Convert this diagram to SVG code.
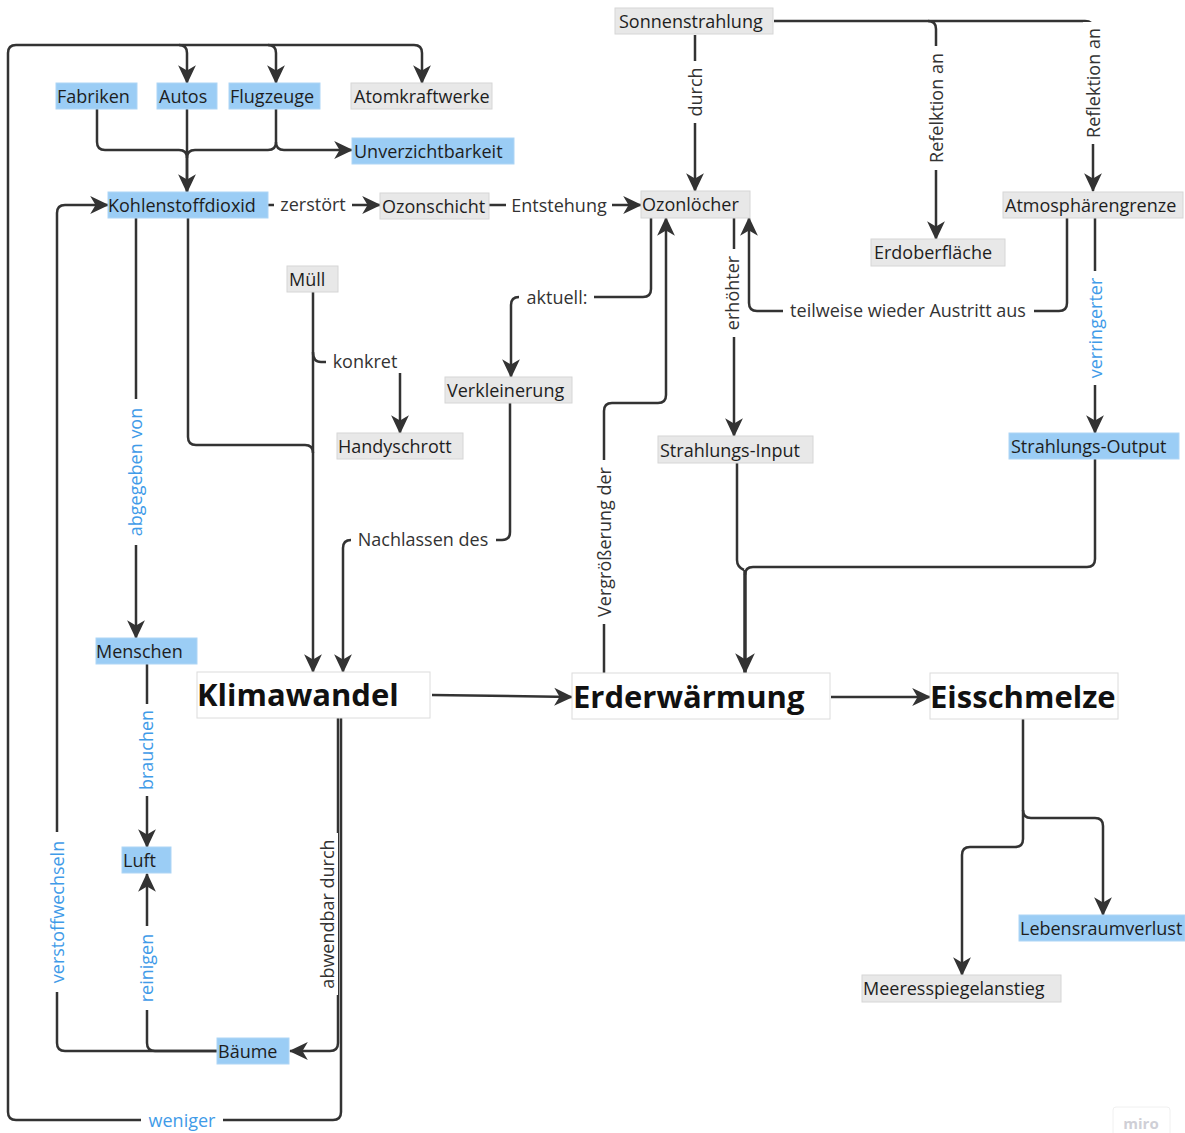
<svg xmlns="http://www.w3.org/2000/svg" width="1185" height="1133" viewBox="0 0 1185 1133">
<defs>
<marker id="ah" viewBox="0 0 16 16" refX="15" refY="8" markerWidth="19" markerHeight="19" markerUnits="userSpaceOnUse" orient="auto">
<path d="M0,0.5 L16,8 L0,15.5 L4.5,8 z" fill="#333"/>
</marker>
<marker id="ahb" viewBox="0 0 16 16" refX="15" refY="8" markerWidth="21" markerHeight="21" markerUnits="userSpaceOnUse" orient="auto">
<path d="M0,0.5 L16,8 L0,15.5 L4.5,8 z" fill="#333"/>
</marker>
</defs>
<style>
.c{fill:none;stroke:#333;stroke-width:2.5;stroke-linejoin:round}
.a{marker-end:url(#ah)}
.nb{fill:#9bcdf5;stroke:#aed5f5;stroke-width:1}
.ng{fill:#e8e8e8;stroke:#d6d6d6;stroke-width:1}
.nw{fill:#fff;stroke:#dcdcdc;stroke-width:1}
.t{font-family:"Open Sans","Noto Sans","DejaVu Sans",sans-serif;font-size:18px;fill:#1e1e1e}
.tb{font-family:"Open Sans","Noto Sans","DejaVu Sans",sans-serif;font-size:31px;font-weight:bold;fill:#111}
.l{font-family:"Open Sans","Noto Sans","DejaVu Sans",sans-serif;font-size:18px;fill:#333;text-anchor:middle}
.lb{font-family:"Open Sans","Noto Sans","DejaVu Sans",sans-serif;font-size:18px;fill:#3f9be8;text-anchor:middle}
.bg{fill:#fff}
</style>
<rect width="1185" height="1133" fill="#fff"/>

<g id="connectors">
<!-- weniger loop -->
<path class="c a" d="M341,718 V1112 Q341,1120 333,1120 H16 Q8,1120 8,1112 V53 Q8,45 16,45 H414 Q422,45 422,53 V83"/>
<path class="c a" d="M179,45 Q187,45 187,53 V83"/>
<path class="c a" d="M268,45 Q276,45 276,53 V83"/>
<!-- abwendbar durch -->
<path class="c a" d="M338,718 V1043 Q338,1051 330,1051 H290"/>
<!-- sources to CO2 -->
<path class="c a" d="M97,109 V142 Q97,150 105,150 H179 Q187,150 187,158 V192"/>
<path class="c" d="M187,109 V192"/>
<path class="c" d="M276,109 V142 Q276,150 268,150 H195 Q187,150 187,158"/>
<path class="c a" d="M276,142 Q276,150 284,150 H352"/>
<!-- zerstört / Entstehung -->
<path class="c a" d="M268,205 H380"/>
<path class="c a" d="M489,205 H641"/>
<!-- Sonnenstrahlung -->
<path class="c a" d="M695,35 V191"/>
<path class="c a" d="M774,21 H1085 Q1093,21 1093,29 V191"/>
<path class="c a" d="M928,21 Q936,21 936,29 V239"/>
<!-- Ozonlöcher area -->
<path class="c a" d="M651,218 V289 Q651,297 643,297 H519 Q511,297 511,305 V377"/>
<path class="c a" d="M604,673 V411 Q604,403 612,403 H658 Q666,403 666,395 V218"/>
<path class="c a" d="M734,218 V436"/>
<path class="c a" d="M1067,218 V303 Q1067,311 1059,311 H757 Q749,311 749,303 V218"/>
<path class="c a" d="M1095,218 V433"/>
<!-- Strahlung to Erderwärmung -->
<path class="c" d="M737,462 V560 Q737,567 744,570"/>
<path class="c" d="M1095,459 V559 Q1095,567 1087,567 H753 Q745,567 745,575"/>
<path class="c" style="stroke-width:3.5;marker-end:url(#ahb)" d="M745,570 V673"/>
<!-- main chain -->
<path class="c a" d="M432,695 L572,697"/>
<path class="c a" d="M831,697 H930"/>
<!-- Eisschmelze -->
<path class="c a" d="M1023,719 V810 Q1023,818 1031,818 H1095 Q1103,818 1103,826 V915"/>
<path class="c a" d="M1023,810 V839 Q1023,847 1015,847 H970 Q962,847 962,855 V975"/>
<!-- CO2 lines -->
<path class="c a" d="M136,218 V638"/>
<path class="c" d="M188,218 V437 Q188,445 196,445 H305 Q313,445 313,453"/>
<path class="c a" d="M313,292 V672"/>
<path class="c a" d="M313,352 Q313,362 321,362 H392 Q400,362 400,370 V433"/>
<path class="c a" d="M510,403 V532 Q510,540 502,540 H351 Q343,540 343,548 V672"/>
<!-- Menschen / Luft / Bäume -->
<path class="c a" d="M147,664 V847"/>
<path class="c a" d="M217,1051 H155 Q147,1051 147,1043 V874"/>
<path class="c a" d="M217,1051 H65 Q57,1051 57,1043 V213 Q57,205 65,205 H108"/>

<!-- labels -->
<rect class="bg" x="274" y="194" width="78" height="22"/><text class="l" x="313" y="211">zerstört</text>
<rect class="bg" x="506" y="194" width="106" height="22"/><text class="l" x="559" y="212">Entstehung</text>
<rect class="bg" x="519" y="287" width="75" height="22"/><text class="l" x="557" y="304">aktuell:</text>
<rect class="bg" x="783" y="300" width="251" height="22"/><text class="l" x="908" y="317">teilweise wieder Austritt aus</text>
<rect class="bg" x="326" y="351" width="78" height="22"/><text class="l" x="365" y="368">konkret</text>
<rect class="bg" x="351" y="529" width="145" height="22"/><text class="l" x="423" y="546">Nachlassen des</text>
<rect class="bg" x="141" y="1110" width="82" height="22"/><text class="lb" x="182" y="1127">weniger</text>

<g transform="translate(696,92) rotate(-90)"><rect class="bg" x="-31" y="-11" width="62" height="22"/><text class="l" x="0" y="6">durch</text></g>
<g transform="translate(937,108) rotate(-90)"><rect class="bg" x="-62" y="-11" width="124" height="22"/><text class="l" x="0" y="6">Refelktion an</text></g>
<g transform="translate(1094,83) rotate(-90)"><rect class="bg" x="-61" y="-11" width="122" height="22"/><text class="l" x="0" y="6">Reflektion an</text></g>
<g transform="translate(605,542) rotate(-90)"><rect class="bg" x="-82" y="-11" width="164" height="22"/><text class="l" x="0" y="6">Vergrößerung der</text></g>
<g transform="translate(733,293) rotate(-90)"><rect class="bg" x="-44" y="-11" width="88" height="22"/><text class="l" x="0" y="6">erhöhter</text></g>
<g transform="translate(1096,328) rotate(-90)"><rect class="bg" x="-57" y="-11" width="114" height="22"/><text class="lb" x="0" y="6">verringerter</text></g>
<g transform="translate(136,472) rotate(-90)"><rect class="bg" x="-73" y="-11" width="146" height="22"/><text class="lb" x="0" y="6">abgegeben von</text></g>
<g transform="translate(147,750) rotate(-90)"><rect class="bg" x="-46" y="-11" width="92" height="22"/><text class="lb" x="0" y="6">brauchen</text></g>
<g transform="translate(147,968) rotate(-90)"><rect class="bg" x="-42" y="-11" width="84" height="22"/><text class="lb" x="0" y="6">reinigen</text></g>
<g transform="translate(58,912) rotate(-90)"><rect class="bg" x="-80" y="-11" width="160" height="22"/><text class="lb" x="0" y="6">verstoffwechseln</text></g>
<g transform="translate(328,914) rotate(-90)"><rect class="bg" x="-81" y="-10" width="162" height="20"/><text class="l" x="0" y="6">abwendbar durch</text></g>
</g>

<g id="n-fabriken"><rect class="nb" x="56" y="83" width="81" height="26"/><text class="t" x="57" y="103">Fabriken</text></g>
<g id="n-autos"><rect class="nb" x="157" y="83" width="60" height="26"/><text class="t" x="159" y="103">Autos</text></g>
<g id="n-flugzeuge"><rect class="nb" x="229" y="83" width="91" height="26"/><text class="t" x="230" y="103">Flugzeuge</text></g>
<g id="n-atomkraftwerke"><rect class="ng" x="351" y="83" width="141" height="26"/><text class="t" x="354" y="103">Atomkraftwerke</text></g>
<g id="n-unverzichtbarkeit"><rect class="nb" x="352" y="138" width="162" height="26"/><text class="t" x="354" y="158">Unverzichtbarkeit</text></g>
<g id="n-kohlenstoffdioxid"><rect class="nb" x="108" y="192" width="160" height="26"/><text class="t" x="108" y="212">Kohlenstoffdioxid</text></g>
<g id="n-ozonschicht"><rect class="ng" x="380" y="193" width="109" height="26"/><text class="t" x="382" y="213">Ozonschicht</text></g>
<g id="n-ozonloecher"><rect class="ng" x="641" y="191" width="109" height="27"/><text class="t" x="642" y="211">Ozonlöcher</text></g>
<g id="n-sonnenstrahlung"><rect class="ng" x="615" y="8" width="158" height="26"/><text class="t" x="619" y="28">Sonnenstrahlung</text></g>
<g id="n-atmosphaerengrenze"><rect class="ng" x="1003" y="192" width="180" height="26"/><text class="t" x="1005" y="212">Atmosphärengrenze</text></g>
<g id="n-erdoberflaeche"><rect class="ng" x="871" y="239" width="134" height="27"/><text class="t" x="874" y="259">Erdoberfläche</text></g>
<g id="n-muell"><rect class="ng" x="287" y="266" width="51" height="26"/><text class="t" x="289" y="286">Müll</text></g>
<g id="n-verkleinerung"><rect class="ng" x="445" y="377" width="127" height="26"/><text class="t" x="447" y="397">Verkleinerung</text></g>
<g id="n-handyschrott"><rect class="ng" x="337" y="433" width="126" height="26"/><text class="t" x="338" y="453">Handyschrott</text></g>
<g id="n-strahlungsinput"><rect class="ng" x="658" y="436" width="155" height="27"/><text class="t" x="660" y="457">Strahlungs-Input</text></g>
<g id="n-strahlungsoutput"><rect class="nb" x="1009" y="433" width="170" height="26"/><text class="t" x="1011" y="453">Strahlungs-Output</text></g>
<g id="n-menschen"><rect class="nb" x="96" y="638" width="101" height="26"/><text class="t" x="96" y="658">Menschen</text></g>
<g id="n-klimawandel"><rect class="nw" x="197" y="672" width="233" height="46"/><text class="tb" x="197" y="706">Klimawandel</text></g>
<g id="n-erderwaermung"><rect class="nw" x="572" y="673" width="258" height="46"/><text class="tb" x="573" y="708">Erderwärmung</text></g>
<g id="n-eisschmelze"><rect class="nw" x="930" y="673" width="188" height="46"/><text class="tb" x="930" y="708">Eisschmelze</text></g>
<g id="n-luft"><rect class="nb" x="122" y="847" width="49" height="26"/><text class="t" x="123" y="867">Luft</text></g>
<g id="n-baeume"><rect class="nb" x="217" y="1038" width="72" height="26"/><text class="t" x="218" y="1058">Bäume</text></g>
<g id="n-lebensraumverlust"><rect class="nb" x="1019" y="915" width="166" height="26"/><text class="t" x="1020" y="935">Lebensraumverlust</text></g>
<g id="n-meeresspiegelanstieg"><rect class="ng" x="862" y="975" width="199" height="27"/><text class="t" x="863" y="995">Meeresspiegelanstieg</text></g>
<g id="watermark"><rect x="1113" y="1107" width="57" height="30" rx="3" fill="#fff" stroke="#f0f0f0"/><text x="1141" y="1129" font-family="'Open Sans',sans-serif" font-size="15" font-weight="bold" fill="#cfcfd6" text-anchor="middle">miro</text></g>
</svg>
